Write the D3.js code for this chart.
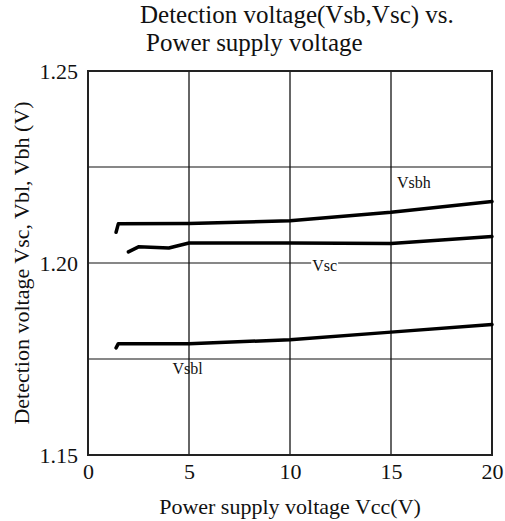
<!DOCTYPE html>
<html>
<head>
<meta charset="utf-8">
<script src="https://cdn.jsdelivr.net/npm/d3@7"></script>
<style>
  body { margin: 0; background: #fff; }
  text { font-family: "Liberation Serif", "Times New Roman", serif; fill: #111; }
</style>
</head>
<body>
<div id="chart"></div>
<script>
// values
const vsbhVcc = [1.39, 1.5, 5, 10, 15, 20];
const vsbhV   = [1.208, 1.2102, 1.2103, 1.211, 1.2132, 1.216];
const vscVcc  = [2.0, 2.5, 4.0, 5, 10, 15, 20];
const vscV    = [1.2029, 1.2042, 1.2039, 1.2052, 1.2052, 1.2051, 1.2069];
const vsblVcc = [1.39, 1.5, 5, 10, 15, 20];
const vsblV   = [1.1779, 1.179, 1.179, 1.18, 1.182, 1.184];

const xTicks = [0, 5, 10, 15, 20];
const yGrid = [1.15, 1.175, 1.2, 1.225, 1.25];
const yLabels = [1.15, 1.2, 1.25];

const margin = { top: 71, right: 13, bottom: 66, left: 88 },
      width = 505 - margin.left - margin.right,
      height = 521 - margin.top - margin.bottom;

const svg = d3.select("#chart")
  .append("svg")
    .attr("width", 505)
    .attr("height", 521);

const g = svg.append("g")
  .attr("transform", `translate(${margin.left},${margin.top})`);

const x = d3.scaleLinear().domain([0, 20]).range([0, width]);
const y = d3.scaleLinear().domain([1.15, 1.25]).range([height, 0]);

// grid
g.selectAll(".vgrid")
  .data(xTicks.slice(1, -1))
  .join("line")
  .attr("x1", d => x(d)).attr("x2", d => x(d))
  .attr("y1", 0).attr("y2", height)
  .attr("stroke", "#666")
  .attr("stroke-width", 2);

g.selectAll(".hgrid")
  .data(yGrid.slice(1, -1))
  .join("line")
  .attr("x1", 0).attr("x2", width)
  .attr("y1", d => y(d)).attr("y2", d => y(d))
  .attr("stroke", "#111")
  .attr("stroke-width", 1.2);

// frame
g.append("rect")
  .attr("width", width)
  .attr("height", height)
  .attr("fill", "none")
  .attr("stroke", "#222")
  .attr("stroke-width", 2);

// axes, labels only
const xAxis = g.append("g")
  .attr("transform", `translate(0,${height})`)
  .call(d3.axisBottom(x).tickValues(xTicks).tickSize(0).tickPadding(8).tickFormat(d3.format("d")));
const yAxis = g.append("g")
  .call(d3.axisLeft(y).tickValues(yLabels).tickSize(0).tickPadding(10).tickFormat(d3.format(".2f")));
[xAxis, yAxis].forEach(a => {
  a.select(".domain").remove();
  a.selectAll("text")
    .style("font-family", "Liberation Serif, serif")
    .style("font-size", "22px")
    .attr("fill", "#111");
});

// curves
const series = [
  { name: "Vsbh", vcc: vsbhVcc, v: vsbhV },
  { name: "Vsc",  vcc: vscVcc,  v: vscV },
  { name: "Vsbl", vcc: vsblVcc, v: vsblV }
];

const line = d3.line()
  .x(d => x(d[0]))
  .y(d => y(d[1]));

g.selectAll(".curve")
  .data(series)
  .join("path")
  .attr("class", "curve")
  .attr("fill", "none")
  .attr("stroke", "#000")
  .attr("stroke-width", 3.5)
  .attr("stroke-linecap", "round")
  .attr("stroke-linejoin", "round")
  .attr("d", d => line(d.vcc.map((c, i) => [c, d.v[i]])));

// curve labels
const vscBg = g.append("rect").attr("fill", "#fff");
const vscLabel = g.append("text")
  .attr("x", x(11.1))
  .attr("y", y(1.2))
  .attr("dy", 8)
  .style("font-size", "16px")
  .text("Vsc");
const bb = vscLabel.node().getBBox();
vscBg
  .attr("x", bb.x - 1).attr("y", bb.y)
  .attr("width", bb.width + 2).attr("height", bb.height);

g.append("text")
  .attr("x", x(15.3))
  .attr("y", y(1.2196))
  .style("font-size", "16px")
  .text("Vsbh");

g.append("text")
  .attr("x", x(4.18))
  .attr("y", y(1.1712))
  .style("font-size", "16px")
  .text("Vsbl");

// titles
svg.append("text")
  .attr("x", 140)
  .attr("y", 23)
  .style("font-size", "25px")
  .text("Detection voltage(Vsb,Vsc) vs.");
svg.append("text")
  .attr("x", 146)
  .attr("y", 51)
  .style("font-size", "25px")
  .text("Power supply voltage");

svg.append("text")
  .attr("x", margin.left + width / 2)
  .attr("y", 514)
  .attr("text-anchor", "middle")
  .style("font-size", "22px")
  .text("Power supply voltage Vcc(V)");

svg.append("text")
  .attr("transform", `translate(29,${margin.top + height / 2}) rotate(-90)`)
  .attr("text-anchor", "middle")
  .style("font-size", "22px")
  .text("Detection voltage Vsc, Vbl, Vbh (V)");
</script>
</body>
</html>
